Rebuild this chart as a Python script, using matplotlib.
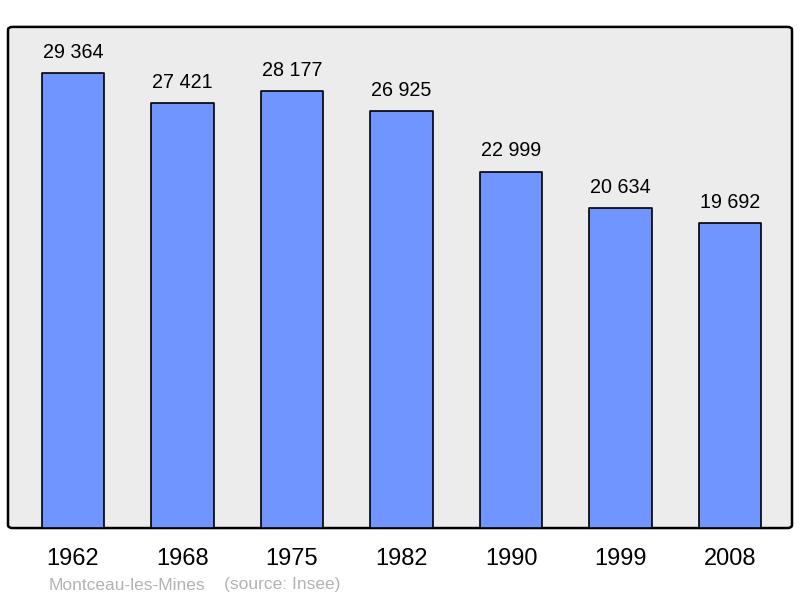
import matplotlib.pyplot as plt
from matplotlib.patches import FancyBboxPatch

years = ['1962', '1968', '1975', '1982', '1990', '1999', '2008']
population = [29364, 27421, 28177, 26925, 22999, 20634, 19692]
labels = ['29 364', '27 421', '28 177', '26 925', '22 999', '20 634', '19 692']

plt.rcParams['font.family'] = ['Liberation Sans', 'DejaVu Sans']

fig = plt.figure(figsize=(8, 5.98), dpi=100)
ax = fig.add_axes([0.01, 0.117, 0.98, 0.838])

# fond gris avec coins arrondis
ax.patch.set_visible(False)
for s in ax.spines.values():
    s.set_visible(False)
frame = FancyBboxPatch((0, 0), 1, 1, boxstyle='round,pad=0,rounding_size=0.006',
                       transform=ax.transAxes, facecolor='#ececec',
                       edgecolor='black', linewidth=1.8, clip_on=False, zorder=0)
ax.add_patch(frame)

x = range(len(years))
bars = ax.bar(x, population, width=0.57, color='#7095ff', edgecolor='black',
              linewidth=1.2, zorder=2)
for b in bars:
    b.set_joinstyle('round')

for i, v in enumerate(population):
    ax.annotate(labels[i], (i, v), xytext=(0, 8), textcoords='offset points',
                ha='center', va='bottom', fontsize=14.2)

ax.set_xlim(-0.594, 6.566)
ax.set_ylim(0, 32330)
ax.set_yticks([])
ax.set_xticks(list(x))
ax.set_xticklabels(years, fontsize=17)
ax.tick_params(axis='x', length=0, pad=14.5)

fig.text(49 / 800, 1 - 585 / 598, 'Montceau-les-Mines', color='#b3b3b3',
         fontsize=12.5, va='center', ha='left')
fig.text(224 / 800, 1 - 585 / 598, '(source: Insee)', color='#b3b3b3',
         fontsize=12.5, va='center', ha='left')

fig.savefig('out.png', dpi=100)
